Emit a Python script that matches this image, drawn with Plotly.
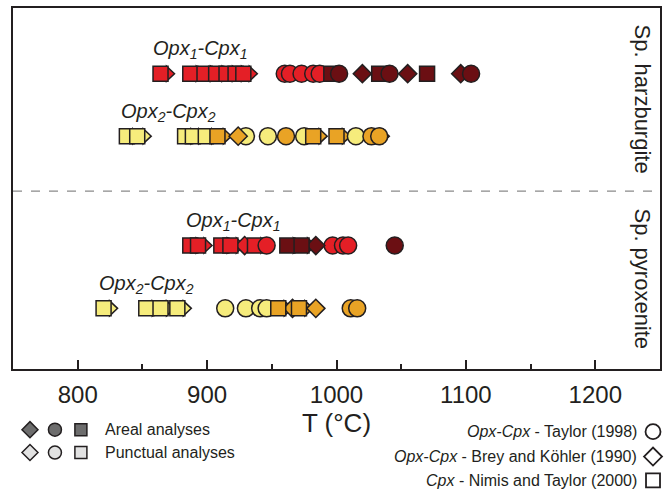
import plotly.graph_objects as go

# ---------------- data (temperatures in °C) ----------------
# Sp. harzburgite, Opx1-Cpx1
r1_punct_sq = [864, 887, 898, 907, 915, 922, 928]   # Nimis & Taylor (with arrow)
r1_punct_ci = [960, 964, 973, 982, 987]
r1_areal_sq = [996, 1033, 1070]
r1_areal_di = [1020, 1055, 1096]
r1_areal_ci = [1002, 1041, 1104]

# Sp. harzburgite, Opx2-Cpx2
r2_punct_sq = [838, 846, 883, 889, 899]
r2_punct_ci = [930, 947, 975, 1015]
r2_areal_sq = [908, 982, 1000, 1030]
r2_areal_di = [924]
r2_areal_ci = [961, 1027, 1033]

# Sp. pyroxenite, Opx1-Cpx1
r3_punct_sq = [887, 893, 911, 918, 937]
r3_punct_di = [929]
r3_punct_ci = [946, 997, 1005, 1009]
r3_areal_sq = [962, 973]
r3_areal_di = [984]
r3_areal_ci = [1045]

# Sp. pyroxenite, Opx2-Cpx2
r4_punct_sq = [820, 853, 864, 877]
r4_areal_sq = [955, 971]
r4_areal_di = [966, 984]
r4_punct_ci = [914, 930, 941, 946]
r4_areal_ci = [1011, 1016]

row_labels = ["Opx<sub>1</sub>-Cpx<sub>1</sub>", "Opx<sub>2</sub>-Cpx<sub>2</sub>",
              "Opx<sub>1</sub>-Cpx<sub>1</sub>", "Opx<sub>2</sub>-Cpx<sub>2</sub>"]
row_label_T = [857, 832, 882, 815]
panel_labels = ["Sp. harzburgite", "Sp. pyroxenite"]
x_ticks = [800, 900, 1000, 1100, 1200]
x_minor = [850, 950, 1050, 1150]

# ---------------- layout geometry / style ----------------
W, H = 668, 492
ML, MR, MT, MB = 13, 7, 6, 123
PW, PH = W - ML - MR, H - MT - MB
FONT = "Arial, 'Liberation Sans', sans-serif"
EDGE = "#231F20"
RED, DRED = "#E41F26", "#6B0F13"
YEL, ORA = "#F6EC7C", "#E9A325"

row_y = [0.818, 0.645, 0.342, 0.168]
rows = [
    dict(y=row_y[0], pc=RED, ac=DRED,
         punct=dict(sq=r1_punct_sq, di=[], ci=r1_punct_ci), parrow=True,
         areal=dict(sq=r1_areal_sq, di=r1_areal_di, ci=r1_areal_ci), aarrow=False),
    dict(y=row_y[1], pc=YEL, ac=ORA,
         punct=dict(sq=r2_punct_sq, di=[], ci=r2_punct_ci), parrow=True,
         areal=dict(sq=r2_areal_sq, di=r2_areal_di, ci=r2_areal_ci), aarrow=True),
    dict(y=row_y[2], pc=RED, ac=DRED,
         punct=dict(sq=r3_punct_sq, di=r3_punct_di, ci=r3_punct_ci), parrow=True,
         areal=dict(sq=r3_areal_sq, di=r3_areal_di, ci=r3_areal_ci), aarrow=True),
    dict(y=row_y[3], pc=YEL, ac=ORA,
         punct=dict(sq=r4_punct_sq, di=[], ci=r4_punct_ci), parrow=True,
         areal=dict(sq=r4_areal_sq, di=r4_areal_di, ci=r4_areal_ci), aarrow=True),
]

sym = dict(sq=("square", 15), di=("diamond", 14), ci=("circle", 17))

fig = go.Figure()
shapes = []
ARROW = "M 6,-7.5 L 14,0 L 6,7.5 Z"

for r in rows:
    for kind, col, arrow in (("punct", r["pc"], r["parrow"]), ("areal", r["ac"], r["aarrow"])):
        grp = r[kind]
        if arrow:
            for t in grp["sq"]:
                shapes.append(dict(type="path", xref="x", yref="y", xsizemode="pixel",
                                   ysizemode="pixel", xanchor=t, yanchor=r["y"], path=ARROW,
                                   fillcolor=col, line=dict(color=EDGE, width=1.5),
                                   layer="below"))
        for k in ("di", "sq", "ci"):
            vals = grp[k]
            if not vals:
                continue
            s, sz = sym[k]
            fig.add_trace(go.Scatter(
                x=vals, y=[r["y"]] * len(vals), mode="markers",
                marker=dict(symbol=s, size=sz, color=col,
                            line=dict(color=EDGE, width=1.5)),
                showlegend=False, hoverinfo="x", cliponaxis=False))

# dashed separator
shapes.append(dict(type="line", xref="paper", yref="y", x0=0, x1=1, y0=0.493, y1=0.493,
                   line=dict(color="#8a8a8a", width=1.2, dash="dash")))

annotations = []
for lab, t, y in zip(row_labels, row_label_T, row_y):
    annotations.append(dict(text="<i>" + lab + "</i>", x=t, y=y, xref="x", yref="y",
                            xanchor="left", yanchor="middle", yshift=24, showarrow=False,
                            font=dict(family=FONT, size=20, color="#231F20")))


def px(xp):
    return (xp - ML) / PW


def py(yp):
    return (H - MB - yp) / PH


for lab, yc in zip(panel_labels, (97, 278)):
    annotations.append(dict(text=lab, x=px(643), y=py(yc), xref="paper", yref="paper",
                            textangle=90, showarrow=False, xanchor="center", yanchor="middle",
                            font=dict(family=FONT, size=22, color="#231F20")))

# ---- bottom-left legend (analysis type) ----
DIAMOND = "M -8,0 L 0,8 L 8,0 L 0,-8 Z"
for yl, fill, text in ((430, "#6d6d6d", "Areal analyses"), (453, "#e2e2e2", "Punctual analyses")):
    shapes.append(dict(type="path", xref="paper", yref="paper", xsizemode="pixel",
                       ysizemode="pixel", xanchor=px(30), yanchor=py(yl), path=DIAMOND,
                       fillcolor=fill, line=dict(color=EDGE, width=1.5)))
    shapes.append(dict(type="circle", xref="paper", yref="paper", xsizemode="pixel",
                       ysizemode="pixel", xanchor=px(55), yanchor=py(yl),
                       x0=-6.5, x1=6.5, y0=-6.5, y1=6.5,
                       fillcolor=fill, line=dict(color=EDGE, width=1.5)))
    shapes.append(dict(type="rect", xref="paper", yref="paper", xsizemode="pixel",
                       ysizemode="pixel", xanchor=px(81), yanchor=py(yl),
                       x0=-6, x1=6, y0=-6, y1=6,
                       fillcolor=fill, line=dict(color=EDGE, width=1.5)))
    annotations.append(dict(text=text, x=px(103), y=py(yl), xref="paper", yref="paper",
                            xanchor="left", yanchor="middle", showarrow=False,
                            font=dict(family=FONT, size=16, color="#231F20")))

# ---- bottom-right legend (thermometers) ----
therm = [("<i>Opx-Cpx</i> - Taylor (1998)", 432, "ci"),
         ("<i>Opx-Cpx</i> - Brey and Köhler (1990)", 457, "di"),
         ("<i>Cpx</i> - Nimis and Taylor (2000)", 481, "sq")]
for text, yl, k in therm:
    annotations.append(dict(text=text, x=px(640), y=py(yl), xref="paper", yref="paper",
                            xanchor="right", yanchor="middle", showarrow=False,
                            font=dict(family=FONT, size=16, color="#231F20")))
    base = dict(xref="paper", yref="paper", xsizemode="pixel", ysizemode="pixel",
                xanchor=px(654), yanchor=py(yl), fillcolor="white",
                line=dict(color=EDGE, width=1.8))
    if k == "ci":
        shapes.append(dict(type="circle", x0=-7.5, x1=7.5, y0=-7.5, y1=7.5, **base))
    elif k == "di":
        shapes.append(dict(type="path", path="M -9,0 L 0,9 L 9,0 L 0,-9 Z", **base))
    else:
        shapes.append(dict(type="rect", x0=-7, x1=7, y0=-7, y1=7, **base))

fig.update_layout(
    width=W, height=H, margin=dict(l=ML, r=MR, t=MT, b=MB),
    paper_bgcolor="white", plot_bgcolor="white",
    shapes=shapes, annotations=annotations, showlegend=False,
    xaxis=dict(range=[750, 1250], tickvals=x_ticks, ticks="inside", ticklen=9,
               tickwidth=1.5, tickcolor="#231F20", ticklabelstandoff=3,
               minor=dict(tickvals=x_minor, ticks="inside", ticklen=5, tickwidth=1.5,
                          tickcolor="#231F20"),
               showline=True, linecolor="#231F20", linewidth=2, mirror=True,
               showgrid=False, zeroline=False,
               tickfont=dict(family=FONT, size=24, color="#231F20"),
               title=dict(text="T (°C)", font=dict(family=FONT, size=26, color="#231F20"),
                          standoff=2)),
    yaxis=dict(range=[0, 1], showticklabels=False, ticks="", showgrid=False,
               zeroline=False, showline=True, linecolor="#231F20", linewidth=2,
               mirror=True, fixedrange=True),
)

fig.write_html("out.html")
